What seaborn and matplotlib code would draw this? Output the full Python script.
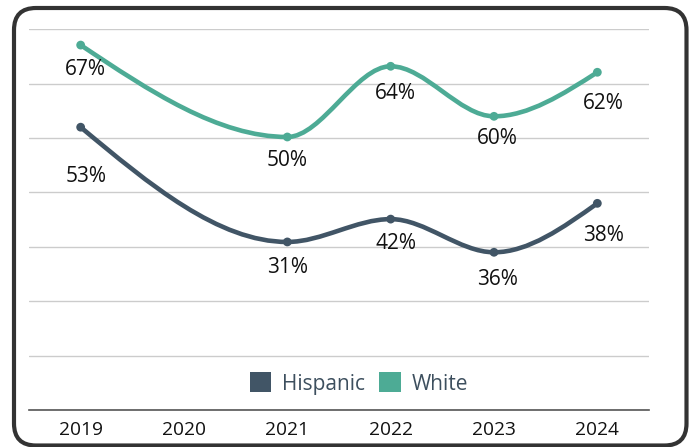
import numpy as np
import pandas as pd
import matplotlib
matplotlib.use("Agg")
import matplotlib.pyplot as plt
import seaborn as sns
from matplotlib.path import Path
from matplotlib.patches import PathPatch, Patch, FancyBboxPatch
from matplotlib.transforms import IdentityTransform

# ---- data ----
tick_years = ["2019", "2020", "2021", "2022", "2023", "2024"]
data_years = ["2019", "2021", "2022", "2023", "2024"]
series_names = ["Hispanic", "White"]
hispanic_values = [52.0, 30.9, 35.1, 29.0, 38.0]
white_values = [67.1, 50.2, 63.2, 54.0, 62.1]
hispanic_labels = ["53%", "31%", "42%", "36%", "38%"]
white_labels = ["67%", "50%", "64%", "60%", "62%"]

colors = {"Hispanic": "#415566", "White": "#4dab95"}

# label offsets in pixels (dx, dy downward)
hispanic_offsets = [(5, 49), (0, 26), (5, 24), (3, 27), (6, 32)]
white_offsets = [(5, 24), (0, 24), (5, 27), (3, 22), (6, 31)]

sns.set_theme(style="white")
plt.rcParams["font.family"] = ["Open Sans", "DejaVu Sans"]

fig = plt.figure(figsize=(6.92, 4.47), dpi=100)
ax = fig.add_axes([29 / 692, (447 - 410) / 447, 620 / 692, (410 - 29.3) / 447])

xpos = [tick_years.index(y) for y in data_years]
df = pd.DataFrame({
    "x": xpos * 2,
    "value": hispanic_values + white_values,
    "series": ["Hispanic"] * len(xpos) + ["White"] * len(xpos),
})


def monotone_path(xs, ys):
    xs = np.asarray(xs, float)
    ys = np.asarray(ys, float)
    n = len(xs)
    h = np.diff(xs)
    s = np.diff(ys) / h
    t = np.zeros(n)
    for i in range(1, n - 1):
        h0, h1, s0, s1 = h[i - 1], h[i], s[i - 1], s[i]
        p = (s0 * h1 + s1 * h0) / (h0 + h1)
        t[i] = (np.sign(s0) + np.sign(s1)) * min(abs(s0), abs(s1), 0.5 * abs(p))
    t[0] = (3 * s[0] - t[1]) / 2
    t[-1] = (3 * s[-1] - t[-2]) / 2
    verts = [(xs[0], ys[0])]
    codes = [Path.MOVETO]
    for i in range(n - 1):
        dx = (xs[i + 1] - xs[i]) / 3
        verts += [(xs[i] + dx, ys[i] + dx * t[i]),
                  (xs[i + 1] - dx, ys[i + 1] - dx * t[i + 1]),
                  (xs[i + 1], ys[i + 1])]
        codes += [Path.CURVE4] * 3
    return Path(verts, codes)


# gridlines
ax.set_ylim(0, 70)
ax.set_xlim(-0.5, 5.5)
ax.set_yticks(np.arange(0, 71, 10))
ax.yaxis.grid(True, color="#cccccc", linewidth=1.0)
ax.set_axisbelow(True)

for name, vals in [("Hispanic", hispanic_values), ("White", white_values)]:
    patch = PathPatch(monotone_path(xpos, vals), fill=False, edgecolor=colors[name],
                      linewidth=3.3, capstyle="round", joinstyle="round", zorder=3)
    ax.add_patch(patch)

sns.scatterplot(data=df, x="x", y="value", hue="series", palette=colors, s=40,
                edgecolor="none", legend=False, ax=ax, zorder=4)

for vals, labs, offs in [(hispanic_values, hispanic_labels, hispanic_offsets),
                         (white_values, white_labels, white_offsets)]:
    for x, v, lab, (dx, dy) in zip(xpos, vals, labs, offs):
        ax.annotate(lab, (x, v), xytext=(dx * 0.72, -dy * 0.72), textcoords="offset points",
                    ha="center", va="center", fontsize=15, color="#111111", zorder=5)

ax.set_xticks(range(len(tick_years)))
ax.set_xticklabels(tick_years)
ax.tick_params(axis="x", length=0, pad=8, labelsize=13.8, labelcolor="#111111")
ax.set_yticklabels([])
ax.tick_params(axis="y", length=0)
ax.set_xlabel("")
ax.set_ylabel("")
for sp in ["top", "right", "left"]:
    ax.spines[sp].set_visible(False)
ax.spines["bottom"].set_color("#555555")
ax.spines["bottom"].set_linewidth(1.2)

handles = [Patch(facecolor=colors[n], edgecolor="none", label=n) for n in series_names]
leg = ax.legend(handles=handles, loc="center", bbox_to_anchor=(0.532, 0.0696), ncol=2,
                frameon=False, fontsize=15, handlelength=1.05, handleheight=1.1,
                handletextpad=0.5, columnspacing=0.7, borderpad=0)
for t in leg.get_texts():
    t.set_color("#3d4f5e")

frame = FancyBboxPatch((14, 1.5), 672.5, 437.5, boxstyle="round,pad=0,rounding_size=22",
                       transform=IdentityTransform(), facecolor="none",
                       edgecolor="#333333", linewidth=3.0, zorder=10)
fig.patches.append(frame)

fig.savefig("out.png", dpi=100)
